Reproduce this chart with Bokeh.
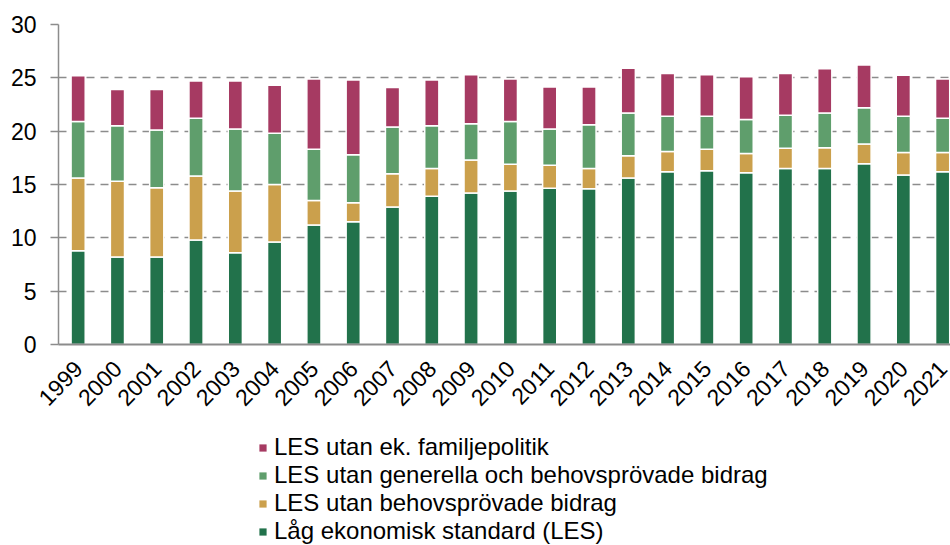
from bokeh.plotting import figure
from bokeh.models import ColumnDataSource, Range1d, FixedTicker, Legend, LegendItem
from bokeh.layouts import column
from bokeh.embed import file_html
from bokeh.resources import INLINE

years = list(range(1999, 2022))
# Cumulative levels (percent)
les = [8.8, 8.2, 8.2, 9.8, 8.6, 9.6, 11.2, 11.5, 12.9, 13.9, 14.2, 14.4, 14.65, 14.6,
       15.6, 16.2, 16.3, 16.1, 16.5, 16.5, 16.95, 15.9, 16.2]
utan_behov = [15.6, 15.3, 14.7, 15.8, 14.4, 15.0, 13.5, 13.3, 16.0, 16.5, 17.3, 16.9, 16.8, 16.5,
              17.7, 18.1, 18.3, 17.9, 18.4, 18.45, 18.8, 18.0, 18.0]
utan_gen = [20.9, 20.5, 20.1, 21.2, 20.2, 19.8, 18.3, 17.8, 20.4, 20.5, 20.7, 20.9, 20.2, 20.6,
            21.7, 21.4, 21.4, 21.1, 21.5, 21.7, 22.2, 21.4, 21.2]
utan_fam = [25.2, 23.9, 23.9, 24.7, 24.7, 24.3, 24.9, 24.8, 24.1, 24.8, 25.3, 24.9, 24.15, 24.15,
            25.9, 25.4, 25.3, 25.1, 25.4, 25.85, 26.2, 25.25, 24.9]

labels = ["LES utan ek. familjepolitik",
          "LES utan generella och behovsprövade bidrag",
          "LES utan behovsprövade bidrag",
          "Låg ekonomisk standard (LES)"]
colors = ["#A63A62", "#5F9E6C", "#CBA04C", "#22724B"]
yticks = [0, 5, 10, 15, 20, 25, 30]

FONT = "Liberation Sans"

p = figure(width=950, height=432, output_backend="svg", toolbar_location=None,
           x_range=Range1d(1998.5, 2021.2), y_range=Range1d(0, 30),
           min_border_left=58, min_border_right=0, min_border_top=24, min_border_bottom=88)
p.outline_line_color = None
p.background_fill_color = "white"

src = ColumnDataSource(dict(x=years, z=[0] * len(years), les=les, ub=utan_behov, ug=utan_gen, uf=utan_fam))
W = 0.36
r_les = p.vbar(x="x", bottom="z", top="les", width=W, source=src, fill_color=colors[3], line_color="white", line_width=1.5)
r_ub = p.vbar(x="x", bottom="les", top="ub", width=W, source=src, fill_color=colors[2], line_color="white", line_width=1.5)
r_ug = p.vbar(x="x", bottom="ub", top="ug", width=W, source=src, fill_color=colors[1], line_color="white", line_width=1.5)
r_uf = p.vbar(x="x", bottom="ug", top="uf", width=W, source=src, fill_color=colors[0], line_color="white", line_width=1.5)

# axes
p.xaxis.ticker = FixedTicker(ticks=years)
p.xaxis.major_label_overrides = {y: str(y) for y in years}
p.xaxis.major_label_orientation = 0.8
p.xaxis.major_tick_out = 0
p.xaxis.major_tick_in = 0
p.xaxis.minor_tick_out = 0
p.xaxis.minor_tick_in = 0
p.xaxis.axis_line_color = "#8c8c8c"
p.xaxis.axis_line_width = 2
p.xaxis.major_label_text_font = FONT
p.xaxis.major_label_text_font_size = "23px"
p.xaxis.major_label_text_color = "black"
p.xaxis.major_label_standoff = 20

p.yaxis.ticker = FixedTicker(ticks=yticks)
p.yaxis.major_tick_out = 8
p.yaxis.major_tick_in = 0
p.yaxis.minor_tick_out = 0
p.yaxis.minor_tick_in = 0
p.yaxis.major_tick_line_color = "#8c8c8c"
p.yaxis.major_tick_line_width = 1.5
p.yaxis.axis_line_color = "#8c8c8c"
p.yaxis.axis_line_width = 1.5
p.yaxis.major_label_text_font = FONT
p.yaxis.major_label_text_font_size = "23px"
p.yaxis.major_label_text_color = "black"
p.yaxis.major_label_standoff = 14

p.xgrid.grid_line_color = None
p.ygrid.grid_line_color = "#8c8c8c"
p.ygrid.grid_line_width = 1.5
p.ygrid.grid_line_dash = "8 6"

# Legend in its own strip below the chart (its bars fall outside its ranges)
lg = figure(width=950, height=113, output_backend="svg", toolbar_location=None,
            x_range=Range1d(0, 1), y_range=Range1d(-2, -1),
            x_axis_location=None, y_axis_location=None,
            min_border_left=0, min_border_right=0, min_border_top=0, min_border_bottom=0)
lg.outline_line_color = None
lg.xgrid.visible = False
lg.ygrid.visible = False
tops = ["uf", "ug", "ub", "les"]
dummies = [lg.vbar(x="x", top=t, width=W, source=src, fill_color=c, line_color=None)
           for t, c in zip(tops, colors)]

legend = Legend(items=[LegendItem(label=lab, renderers=[r]) for lab, r in zip(labels, dummies)],
                location=(200, 0), orientation="vertical")
legend.border_line_color = None
legend.background_fill_alpha = 0
legend.padding = 0
legend.margin = 0
legend.spacing = 0
legend.glyph_width = 9
legend.glyph_height = 9
legend.label_standoff = 7
legend.label_height = 24
legend.label_text_font = FONT
legend.label_text_font_size = "24px"
legend.label_text_color = "black"
legend.label_text_baseline = "middle"
lg.add_layout(legend, "center")

layout = column(p, lg, spacing=0)
open("out.html", "w").write(file_html(layout, INLINE))
